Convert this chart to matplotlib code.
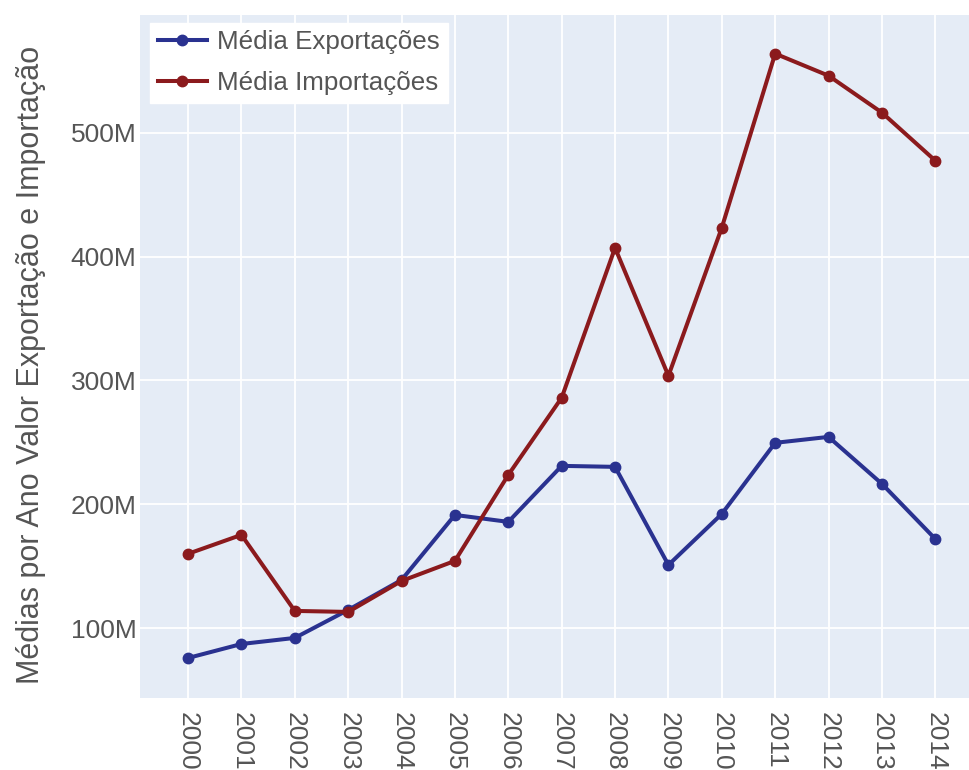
import matplotlib
matplotlib.use("Agg")
import matplotlib.pyplot as plt
from matplotlib.ticker import FuncFormatter

years = list(range(2000, 2015))
exportacoes = [75.9, 87.2, 92.1, 114.7, 138.9, 191.4, 185.8, 231.0, 230.2, 151.0,
               192.2, 249.6, 254.4, 216.5, 172.0]
importacoes = [160.0, 175.3, 113.9, 113.1, 138.1, 154.3, 223.7, 286.0, 407.0, 303.7,
               423.3, 563.8, 546.0, 516.2, 477.4]
exportacoes = [v * 1e6 for v in exportacoes]
importacoes = [v * 1e6 for v in importacoes]

plt.rcParams['font.family'] = ['Liberation Sans', 'DejaVu Sans']
fig = plt.figure(figsize=(9.7, 7.7), dpi=100)
ax = fig.add_axes([140/970, 1-698/770, 1-140/970, (698-15)/770])
ax.set_facecolor('#e5ecf6')
for s in ax.spines.values():
    s.set_visible(False)
ax.grid(True, color='white', linewidth=1.3)
ax.set_axisbelow(True)

ax.plot(years, exportacoes, color='#2a3290', linewidth=2.9, marker='o', markersize=7.5,
        label='Média Exportações')
ax.plot(years, importacoes, color='#8b1a1d', linewidth=2.9, marker='o', markersize=7.5,
        label='Média Importações')

ax.set_xlim(1999.1, 2014.65)
ax.set_ylim(43.6e6, 595e6)
ax.set_xticks(years)
ax.set_xticklabels([str(y) for y in years], rotation=-90, fontsize=19, color='#555555')
ax.set_yticks([100e6, 200e6, 300e6, 400e6, 500e6])
ax.yaxis.set_major_formatter(FuncFormatter(lambda v, p: f"{int(round(v/1e6))}M"))
ax.tick_params(axis='y', labelsize=19, colors='#555555', length=0, pad=2.5)
ax.tick_params(axis='x', length=0, pad=10)
ax.set_ylabel('Médias por Ano Valor Exportação e Importação', fontsize=22, color='#555555', labelpad=18)
ax.yaxis.label.set_y(0.487)

leg = ax.legend(loc='upper left', bbox_to_anchor=(0.012, 0.989), fontsize=18.7, frameon=True,
                fancybox=False, framealpha=1, edgecolor='white', borderpad=0.3,
                handlelength=1.9, handletextpad=0.38, labelspacing=0.65, borderaxespad=0.0)
for t in leg.get_texts():
    t.set_color('#555555')

fig.savefig('out.png', dpi=100)
